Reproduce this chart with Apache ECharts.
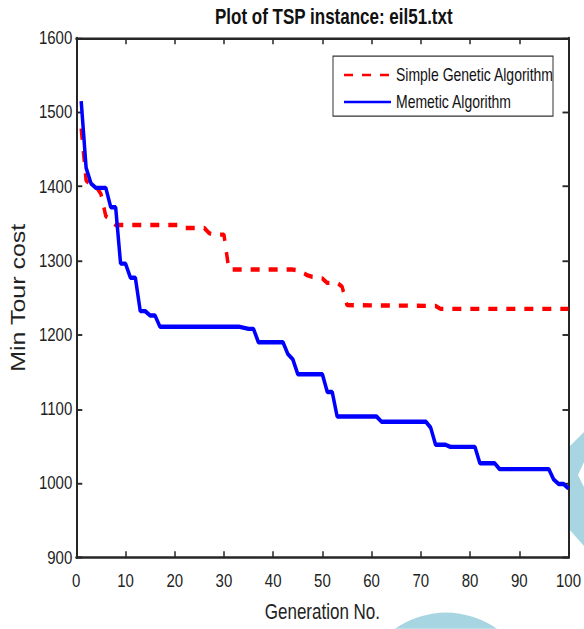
<!DOCTYPE html>
<html>
<head>
<meta charset="utf-8">
<title>Plot of TSP instance: eil51.txt</title>
<script src="https://cdn.jsdelivr.net/npm/echarts@6/dist/echarts.min.js"></script>
<style>
html, body { margin: 0; padding: 0; background: #fff; width: 584px; height: 629px; overflow: hidden; }
#wrap { width: 584px; height: 629px; overflow: visible; }
/* the source picture is stretched vertically, so the chart is drawn flat and stretched */
#chart { width: 584px; height: 503px; transform: scaleY(1.25); transform-origin: 0 0; }
</style>
</head>
<body>
<div id="wrap"><div id="chart"></div></div>
<script>
// generation / min tour cost (breakpoints)
var gaGen  = [1, 2, 3, 4, 5, 6, 7, 8, 21, 22, 26, 27, 28, 30, 31, 44, 45, 46, 47, 48, 50, 51, 53, 54, 55, 73, 74, 100];
var gaCost = [1478, 1408, 1402, 1400, 1390, 1360, 1355, 1348, 1348, 1344, 1344, 1337, 1335, 1335, 1288, 1288, 1287, 1284, 1280, 1278, 1276, 1270, 1270, 1265, 1240, 1239, 1235, 1235];

var maGen  = [1, 2, 3, 4, 6, 7, 8, 9, 10, 11, 12, 13, 14, 15, 16, 17, 33, 35, 36, 37, 42, 43, 44, 45, 50, 51, 52, 53, 61, 62, 71, 72, 73, 75, 76, 81, 82, 85, 86, 96, 97, 98, 99, 100];
var maCost = [1515, 1425, 1404, 1398, 1398, 1372, 1372, 1296, 1296, 1277, 1277, 1232, 1232, 1226, 1226, 1211, 1211, 1208, 1208, 1190, 1190, 1174, 1167, 1147, 1147, 1123, 1123, 1090, 1090, 1083, 1083, 1075, 1052, 1052, 1049, 1049, 1027, 1027, 1019, 1019, 1005, 999, 999, 993];

var seriesNames = ['Simple Genetic Algorithm', 'Memetic Algorithm'];

function pairs(xs, ys) {
    var out = [];
    xs.forEach(function (x, i) {
        out.push([x, ys[i]]);
    });
    return out;
}

var font = "'Liberation Sans', Arial, sans-serif";
var axisColor = '#262626';

var myChart = echarts.init(document.getElementById('chart'), null, {renderer: 'svg'});

var xBase = {
    type: 'value', min: 0, max: 100, interval: 10,
    splitLine: {show: false},
    axisLine: {show: true, onZero: false, lineStyle: {color: axisColor, width: 2}},
    axisTick: {show: true, inside: true, length: 5, lineStyle: {color: axisColor, width: 1.5}}
};
var yBase = {
    type: 'value', min: 900, max: 1600, interval: 100,
    splitLine: {show: false},
    axisLine: {show: true, onZero: false, lineStyle: {color: axisColor, width: 2}},
    axisTick: {show: true, inside: true, length: 6, lineStyle: {color: axisColor, width: 1.5}}
};

var option = {
    backgroundColor: '#fff',
    animation: false,
    textStyle: {fontFamily: font},
    title: {
        text: 'Plot of TSP instance: eil51.txt',
        left: 215,
        top: 5,
        padding: 0,
        textStyle: {fontFamily: font, fontSize: 17, fontWeight: 'bold', color: '#111'}
    },
    grid: {left: 72, right: 15, top: 30.4, bottom: 53.6, containLabel: false},
    legend: {
        data: seriesNames.map(function (name) {
            return {name: name, itemStyle: {opacity: 0}};
        }),
        orient: 'vertical',
        left: 343,
        top: 53,
        padding: 0,
        itemWidth: 47,
        itemHeight: 14,
        itemGap: 7.6,
        textStyle: {fontFamily: font, fontSize: 14, color: '#111'},
        z: 5
    },
    xAxis: [
        Object.assign({}, xBase, {
            position: 'bottom',
            name: 'Generation No.',
            nameLocation: 'middle',
            nameGap: 35,
            nameTextStyle: {fontFamily: font, fontSize: 17, color: '#222'},
            axisLabel: {margin: 11, fontSize: 15, color: '#222', fontFamily: font}
        }),
        Object.assign({}, xBase, {position: 'top', axisLabel: {show: false}})
    ],
    yAxis: [
        Object.assign({}, yBase, {
            position: 'left',
            name: 'Min Tour cost',
            nameLocation: 'middle',
            nameGap: 44,
            nameTextStyle: {fontFamily: font, fontSize: 20, color: '#222'},
            axisLabel: {
                margin: 4, fontSize: 15, color: '#222', fontFamily: font,
                formatter: function (v) { return String(v); }
            }
        }),
        Object.assign({}, yBase, {position: 'right', axisLabel: {show: false}})
    ],
    graphic: [
        {
            type: 'rect', z: 1,
            shape: {x: 333, y: 44.8, width: 220, height: 48},
            style: {fill: 'transparent', stroke: '#333', lineWidth: 1}
        },
        {
            type: 'circle', z: -10, silent: true,
            shape: {cx: 446, cy: 596, r: 106},
            style: {fill: '#a8d5e2'}
        },
        {
            type: 'polygon', z: -10, silent: true,
            shape: {points: [[584, 345.6], [568, 358.4], [568, 422.4], [584, 436.8], [584, 389.6], [578, 380], [584, 369.6]]},
            style: {fill: '#a8d5e2'}
        }
    ],
    series: [
        {
            name: seriesNames[0],
            type: 'line',
            data: pairs(gaGen, gaCost),
            symbol: 'none',
            lineStyle: {color: '#ff0000', width: 3.5, type: [9, 9]},
            itemStyle: {color: '#ff0000'},
            z: 3
        },
        {
            name: seriesNames[1],
            type: 'line',
            data: pairs(maGen, maCost),
            symbol: 'none',
            lineStyle: {color: '#0000ff', width: 3.5},
            itemStyle: {color: '#0000ff'},
            z: 4
        }
    ]
};

myChart.setOption(option);
</script>
</body>
</html>
